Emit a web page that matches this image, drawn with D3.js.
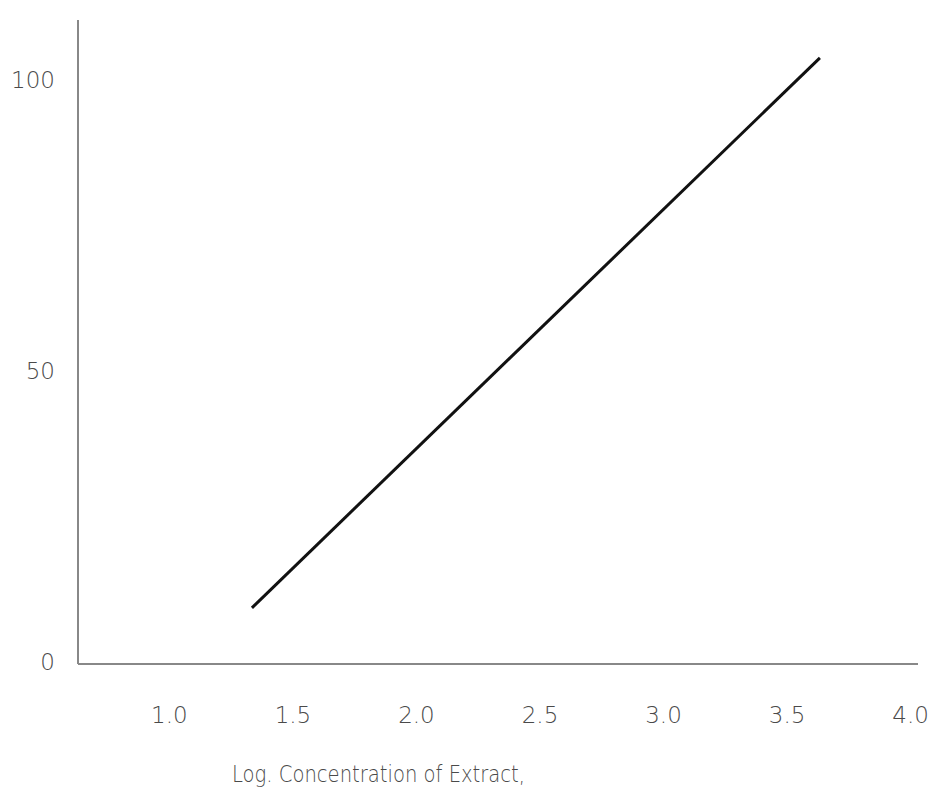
<!DOCTYPE html>
<html>
<head>
<meta charset="utf-8">
<script src="https://cdn.jsdelivr.net/npm/d3@7"></script>
<style>
  body { margin: 0; background: #fff; }
  text { font-family: "DejaVu Sans", sans-serif; font-weight: 200; fill: #4a4a4a; }
</style>
</head>
<body>
<div id="chart"></div>
<script>
  // values
  var xTicks = [1.0, 1.5, 2.0, 2.5, 3.0, 3.5, 4.0];
  var yTicks = [0, 50, 100];
  var lineX = [1.334, 3.633];
  var lineY = [9.3, 103.8];
  var xTitle = "Log. Concentration of Extract,";

  var width = 933, height = 787;
  var svg = d3.select("#chart").append("svg")
    .attr("width", width)
    .attr("height", height);

  var x = d3.scaleLinear().domain([0.63, 4.03]).range([78, 918]);
  var y = d3.scaleLinear().domain([-0.35, 110.3]).range([664, 20]);

  // axes, plain lines, no tick marks
  svg.append("line")
    .attr("x1", x(0.63)).attr("x2", x(0.63))
    .attr("y1", y(110.3)).attr("y2", y(-0.35))
    .attr("stroke", "#888").attr("stroke-width", 2);
  svg.append("line")
    .attr("x1", x(0.63)).attr("x2", x(4.03))
    .attr("y1", y(-0.35)).attr("y2", y(-0.35))
    .attr("stroke", "#888").attr("stroke-width", 2);

  svg.selectAll(".ylab").data(yTicks).enter()
    .append("text")
    .attr("class", "ylab")
    .attr("x", 55)
    .attr("y", function(d) { return y(d); })
    .attr("dy", "0.35em")
    .attr("text-anchor", "end")
    .attr("font-size", 23)
    .text(function(d) { return d; });

  svg.selectAll(".xlab").data(xTicks).enter()
    .append("text")
    .attr("class", "xlab")
    .attr("x", function(d) { return x(d); })
    .attr("y", 715)
    .attr("dy", "0.35em")
    .attr("text-anchor", "middle")
    .attr("font-size", 23)
    .text(function(d) { return d.toFixed(1); });

  svg.append("text")
    .attr("x", 232)
    .attr("y", 774)
    .attr("dy", "0.35em")
    .attr("font-size", 23)
    .attr("textLength", 293)
    .attr("lengthAdjust", "spacingAndGlyphs")
    .text(xTitle);

  var pts = lineX.map(function(v, i) { return [v, lineY[i]]; });
  svg.append("path")
    .datum(pts)
    .attr("d", d3.line().x(function(d) { return x(d[0]); }).y(function(d) { return y(d[1]); }))
    .attr("fill", "none")
    .attr("stroke", "#111")
    .attr("stroke-width", 3);
</script>
</body>
</html>
